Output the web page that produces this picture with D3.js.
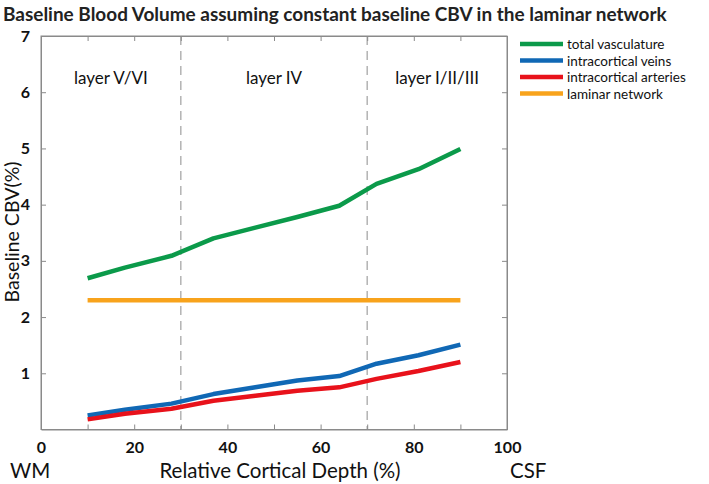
<!DOCTYPE html>
<html>
<head>
<meta charset="utf-8">
<script src="https://cdn.jsdelivr.net/npm/d3@7"></script>
<style>
  body { margin: 0; background: #fff; }
  svg { display: block; font-family: Lato, "Open Sans", sans-serif; }
</style>
</head>
<body>
<main></main>
<script>
const depth = [10, 18, 28, 37, 46, 55, 64, 72, 81, 90];
const totalVasculature = [2.69, 2.88, 3.09, 3.40, 3.59, 3.78, 3.98, 4.37, 4.63, 4.99];
const intracorticalVeins = [0.25, 0.35, 0.46, 0.63, 0.75, 0.87, 0.95, 1.17, 1.32, 1.51];
const intracorticalArteries = [0.18, 0.28, 0.37, 0.51, 0.60, 0.69, 0.75, 0.90, 1.04, 1.20];
const laminarNetwork = [2.30, 2.30, 2.30, 2.30, 2.30, 2.30, 2.30, 2.30, 2.30, 2.30];

const seriesNames = ['total vasculature', 'intracortical veins', 'intracortical arteries', 'laminar network'];
const seriesColors = ['#0b9a4a', '#1068b5', '#e8121b', '#f8a31c'];
const seriesValues = [totalVasculature, intracorticalVeins, intracorticalArteries, laminarNetwork];

const layerBounds = [30, 70];
const layerNames = ['layer V/VI', 'layer IV', 'layer I/II/III'];
const layerCenters = [15, 50, 85];

const xTicks = [0, 10, 20, 30, 40, 50, 60, 70, 80, 90, 100];
const xTickLabels = [0, 20, 40, 60, 80, 100];
const yTicks = [1, 2, 3, 4, 5, 6, 7];

const width = 709;
const height = 484;
const margin = { top: 36, right: 202, bottom: 55, left: 41 };

const xScale = d3.scaleLinear()
  .domain([0, 100])
  .range([margin.left, width - margin.right]);

const yScale = d3.scaleLinear()
  .domain([0, 7])
  .range([height - margin.bottom + 0.5, margin.top]);

const svg = d3.select('main')
  .append('svg')
  .attr('width', width)
  .attr('height', height);

// title, squeezed to the width of the original
const title = svg.append('text')
  .attr('x', 3)
  .attr('y', 21)
  .attr('font-size', 19)
  .attr('font-weight', 'bold')
  .attr('fill', '#222')
  .text('Baseline Blood Volume assuming constant baseline CBV in the laminar network');
const titleLen = title.node().getComputedTextLength();
title.attr('font-size', 19 * 664 / titleLen);

const plotBottom = yScale(0);
const plotTop = yScale(7);
const plotLeft = xScale(0);
const plotRight = xScale(100);

// dashed layer boundaries
svg.append('g')
  .selectAll('line')
  .data(layerBounds)
  .join('line')
  .attr('x1', d => xScale(d))
  .attr('x2', d => xScale(d))
  .attr('y1', plotTop)
  .attr('y2', plotBottom)
  .attr('stroke', '#b3b3b3')
  .attr('stroke-width', 1.5)
  .attr('stroke-dasharray', '9 6');

// axes, with ticks pointing inwards on all four sides
const axisColor = '#8a8a8a';

svg.append('g')
  .attr('transform', `translate(0 ${plotBottom})`)
  .call(d3.axisBottom(xScale)
    .tickValues(xTicks)
    .tickSizeInner(-5)
    .tickSizeOuter(0)
    .tickPadding(12)
    .tickFormat(d => (xTickLabels.includes(d) ? d : '')));

svg.append('g')
  .attr('transform', `translate(0 ${plotTop})`)
  .call(d3.axisTop(xScale)
    .tickValues(xTicks)
    .tickSizeInner(-5)
    .tickSizeOuter(0)
    .tickFormat(''));

svg.append('g')
  .attr('transform', `translate(${plotLeft} 0)`)
  .call(d3.axisLeft(yScale)
    .tickValues(yTicks)
    .tickSizeInner(-5)
    .tickSizeOuter(0)
    .tickPadding(11)
    .tickFormat(d3.format('d')));

svg.append('g')
  .attr('transform', `translate(${plotRight} 0)`)
  .call(d3.axisRight(yScale)
    .tickValues(yTicks)
    .tickSizeInner(-5)
    .tickSizeOuter(0)
    .tickFormat(''));

svg.selectAll('.domain, .tick line')
  .attr('stroke', axisColor);

// box round the plot
svg.append('rect')
  .attr('x', plotLeft)
  .attr('y', plotTop)
  .attr('width', plotRight - plotLeft)
  .attr('height', plotBottom - plotTop)
  .attr('fill', 'none')
  .attr('stroke', axisColor);

svg.selectAll('.tick text')
  .attr('font-family', 'Lato, sans-serif')
  .attr('font-size', 16)
  .attr('font-weight', 'bold')
  .attr('fill', '#111');

// data lines
const line = d3.line()
  .x((d, i) => xScale(depth[i]))
  .y(d => yScale(d));

const order = [3, 0, 1, 2];
svg.append('g')
  .selectAll('path')
  .data(order)
  .join('path')
  .attr('d', i => line(seriesValues[i]))
  .attr('fill', 'none')
  .attr('stroke', i => seriesColors[i])
  .attr('stroke-width', 4.5)
  .attr('stroke-linejoin', 'round');

// layer labels
svg.append('g')
  .selectAll('text')
  .data(layerNames)
  .join('text')
  .attr('x', (d, i) => xScale(layerCenters[i]))
  .attr('y', 84)
  .attr('text-anchor', 'middle')
  .attr('font-size', 17)
  .attr('fill', '#111')
  .text(d => d);

// legend
const legend = svg.append('g')
  .attr('transform', 'translate(520 44)');

const legendRow = legend.selectAll('g')
  .data(seriesNames)
  .join('g')
  .attr('transform', (d, i) => `translate(0 ${i * 16.5})`);

legendRow.append('line')
  .attr('x1', 0)
  .attr('x2', 43)
  .attr('stroke', (d, i) => seriesColors[i])
  .attr('stroke-width', 4.5);

legendRow.append('text')
  .attr('x', 47)
  .attr('y', 5)
  .attr('font-size', 13.5)
  .attr('fill', '#111')
  .text(d => d);

// axis titles
svg.append('text')
  .attr('transform', 'translate(19 232) rotate(-90)')
  .attr('text-anchor', 'middle')
  .attr('font-size', 19.5)
  .attr('fill', '#111')
  .text('Baseline CBV(%)');

const bottomY = 478;
svg.append('text')
  .attr('x', 10)
  .attr('y', bottomY)
  .attr('font-size', 20.5)
  .attr('fill', '#111')
  .text('WM');

svg.append('text')
  .attr('x', xScale(50) + 6)
  .attr('y', bottomY)
  .attr('text-anchor', 'middle')
  .attr('font-size', 20.5)
  .attr('fill', '#111')
  .text('Relative Cortical Depth (%)');

svg.append('text')
  .attr('x', 510)
  .attr('y', bottomY)
  .attr('font-size', 20.5)
  .attr('fill', '#111')
  .text('CSF');
</script>
</body>
</html>
